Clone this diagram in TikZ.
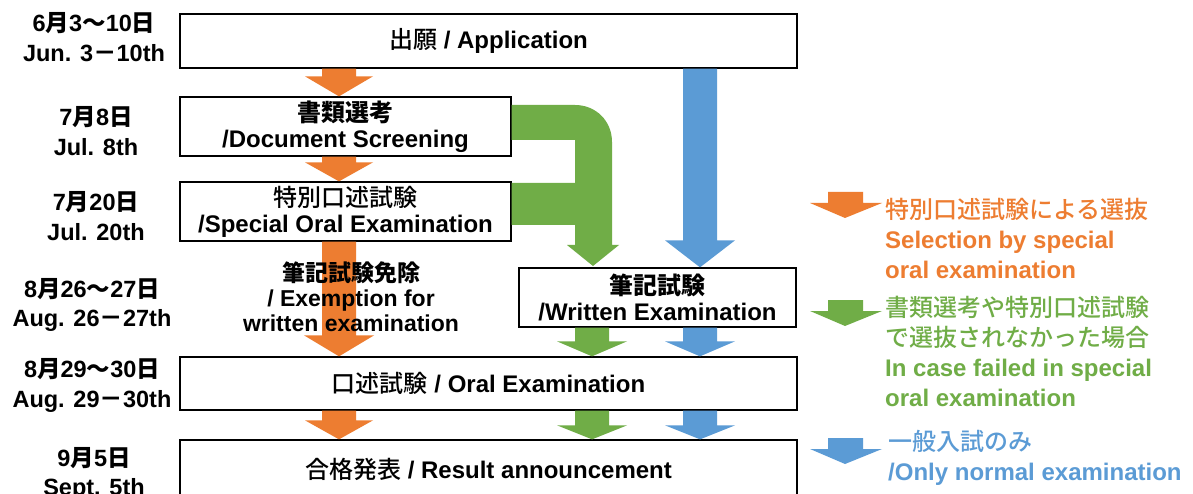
\documentclass[tikz,border=0pt]{standalone}
\usepackage{fontspec}
\setmainfont{Liberation Sans}
\newfontfamily\jp{Noto Sans CJK JP Medium}
\newfontfamily\jpb{Noto Sans CJK JP Bold}
\usetikzlibrary{calc}
\definecolor{aorange}{HTML}{ED7D31}
\definecolor{agreen}{HTML}{70AD47}
\definecolor{ablue}{HTML}{5B9BD5}
\newcommand\J[1]{{\jpb #1}}
\newcommand\Jr[1]{{\mdseries\jp #1}}
% block arrow from one node anchor to another: colour, x centre, from, to, head half width, head length
\newcommand{\blockarrow}[6]{%
  \fill[#1] let \p1=(#3), \p2=(#4) in
    (#2pt-17pt,\y1) -- (#2pt+17pt,\y1) -- (#2pt+17pt,\y2+#6pt) -- (#2pt+#5pt,\y2+#6pt)
    -- (#2pt,\y2) -- (#2pt-#5pt,\y2+#6pt) -- (#2pt-17pt,\y2+#6pt) -- cycle;}
% legend arrow: colour, top y
\newcommand{\legendarrow}[2]{%
  \fill[#1] (828,#2) -- (863,#2) -- (863,#2+11) -- (882,#2+11) -- (845,#2+26)
    -- (810,#2+11) -- (828,#2+11) -- cycle;}
\tikzset{
  box/.style={draw=black, line width=1.3pt, fill=white, inner sep=0pt, align=center,
    font=\bfseries\fontsize{24}{26}\selectfont},
  datelabel/.style={align=center, inner sep=0pt, font=\bfseries\fontsize{23.5}{29.5}\selectfont},
  legendtext/.style={align=left, inner sep=0pt, anchor=west, font=\bfseries\fontsize{24}{30}\selectfont},
}
\begin{document}
\begin{tikzpicture}[x=1pt,y=-1pt]
\clip (0,0) rectangle (1193,494);
\fill[white] (0,0) rectangle (1193,494);

% boxes
\node[box, minimum width=617pt, minimum height=54pt] (app) at (488.5,41) {\Jr{出願} / Application};
\node[box, minimum width=331pt, minimum height=59pt] (doc) at (345.5,126.5) {\J{書類選考}\\/Document Screening};
\node[box, minimum width=331pt, minimum height=59pt] (spec) at (345.5,211.5) {\Jr{特別口述試験}\\/Special Oral Examination};
\node[box, minimum width=277pt, minimum height=59pt] (writ) at (657.5,297.5) {\J{筆記試験}\\/Written Examination};
\node[box, minimum width=617pt, minimum height=53pt] (oral) at (488.5,383.5) {\Jr{口述試験} / Oral Examination};
\node[box, minimum width=617pt, minimum height=58pt] (res) at (488.5,469) {\Jr{合格発表} / Result announcement};

% date labels
\node[datelabel] (d1) at (94,37) {6\J{月}3\J{～}10\J{日}\\Jun. 3\J{－}10th};
\node[datelabel] (d2) at (96,131) {7\J{月}8\J{日}\\Jul. 8th};
\node[datelabel] (d3) at (96,216) {7\J{月}20\J{日}\\Jul. 20th};
\node[datelabel] (d4) at (92,305) {8\J{月}26\J{～}27\J{日}\\Aug. 26\J{－}27th};
\node[datelabel] (d5) at (92,385.5) {8\J{月}29\J{～}30\J{日}\\Aug. 29\J{－}30th};
\node[datelabel] (d6) at (94,474) {9\J{月}5\J{日}\\Sept. 5th};

% orange arrows
\blockarrow{aorange}{339}{app.south}{doc.north}{34}{20}
\blockarrow{aorange}{339}{doc.south}{spec.north}{34}{19}
\blockarrow{aorange}{339}{spec.south}{oral.north}{35}{21}
\blockarrow{aorange}{339}{oral.south}{res.north}{34}{19}

% blue arrows
\blockarrow{ablue}{700}{app.south}{writ.north}{35}{27}
\blockarrow{ablue}{700}{writ.south}{oral.north}{35}{15}
\blockarrow{ablue}{700}{oral.south}{res.north}{35}{14}

% green arrows
\fill[agreen] (doc.east |- 0,105) -- (575,105) .. controls (596,105) and (612,121) .. (612,142)
  -- (612,245) -- (619,245) -- (593,266) -- (567,245) -- (575,245) -- (575,225)
  -- (spec.east |- 0,225) -- (spec.east |- 0,183) -- (575,183) -- (575,140)
  -- (doc.east |- 0,140) -- cycle;
\blockarrow{agreen}{592}{writ.south}{oral.north}{35}{15}
\blockarrow{agreen}{592}{oral.south}{res.north}{35}{14}

% exemption label over the long orange arrow
\node[align=center, inner sep=0pt, font=\bfseries\fontsize{23}{25}\selectfont] (ex) at (351,297)
  {\J{筆記試験免除}\\/ Exemption for\\written examination};

% legend
\legendarrow{aorange}{192}
\legendarrow{agreen}{300}
\legendarrow{ablue}{438}
\node[legendtext, text=aorange] (lg1) at (885,238) {\Jr{特別口述試験による選抜}\\Selection by special\\oral examination};
\node[legendtext, text=agreen] (lg2) at (885,351.5) {\Jr{書類選考や特別口述試験}\\\Jr{で選抜されなかった場合}\\In case failed in special\\oral examination};
\node[legendtext, text=ablue] (lg3) at (888,457.5) {\Jr{一般入試のみ}\\/Only normal examination};
\end{tikzpicture}
\end{document}
